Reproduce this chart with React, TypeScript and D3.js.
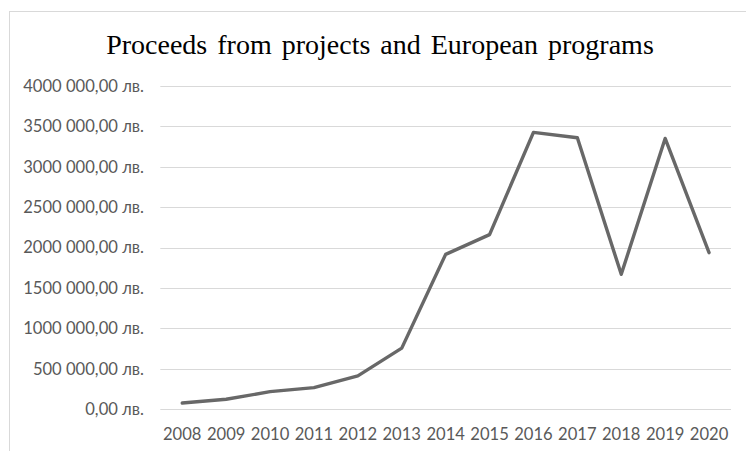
import React from "react";
import * as d3 from "d3";

const years = ["2008","2009","2010","2011","2012","2013","2014","2015","2016","2017","2018","2019","2020"];
const proceeds = [78000,124000,218000,268000,413000,757000,1917000,2161000,3426000,3359000,1670000,3351000,1938000];
const yTicks = [0,500000,1000000,1500000,2000000,2500000,3000000,3500000,4000000];
const title = "Proceeds from projects and European programs";

const W = 746, H = 451;
const plotLeft = 160.3, plotRight = 731, plotTop = 86, plotBottom = 409.3;

function fmt(v: number) {
  const intPart = Math.round(v);
  const s = String(intPart);
  let out = s;
  if (s.length > 3) out = s.slice(0, s.length - 3) + " " + s.slice(s.length - 3);
  return out + ",00 лв.";
}

export default function App() {
  const x = d3.scaleBand<string>().domain(years).range([plotLeft, plotRight]);
  const y = d3.scaleLinear().domain([0, 4000000]).range([plotBottom, plotTop]);
  const line = d3.line<number>()
    .x((_, i) => (x(years[i]) as number) + x.bandwidth() / 2)
    .y((d) => y(d));
  const textColor = "#595959";
  return (
    <svg width={W} height={H} style={{ position: "absolute", left: 0, top: 0, display: "block", background: "#fff" }}>
      <rect x={9.5} y={11.5} width={W + 20} height={H + 20} fill="#fff" stroke="#d9d9d9" strokeWidth={1} />
      <text x={380} y={53.5} textAnchor="middle" fontFamily="'Liberation Serif', 'Times New Roman', serif" fontSize={28} fill="#000" wordSpacing={3}>
        {title}
      </text>
      {yTicks.map((t) => (
        <g key={t}>
          <line x1={plotLeft} x2={plotRight} y1={Math.round(y(t)) + 0.5} y2={Math.round(y(t)) + 0.5} stroke="#d9d9d9" strokeWidth={1} />
          <text x={144} y={y(t)} dy="0.35em" textAnchor="end" fontFamily="Lato, 'Open Sans', sans-serif" fontSize={16.6} fill={textColor}>
            {fmt(t)}
          </text>
        </g>
      ))}
      {years.map((yr) => (
        <text key={yr} x={(x(yr) as number) + x.bandwidth() / 2} y={440} textAnchor="middle" fontFamily="Lato, 'Open Sans', sans-serif" fontSize={16.6} fill={textColor}>
          {yr}
        </text>
      ))}
      <path d={line(proceeds) || ""} fill="none" stroke="#686868" strokeWidth={3.4} strokeLinejoin="round" strokeLinecap="round" />
    </svg>
  );
}
